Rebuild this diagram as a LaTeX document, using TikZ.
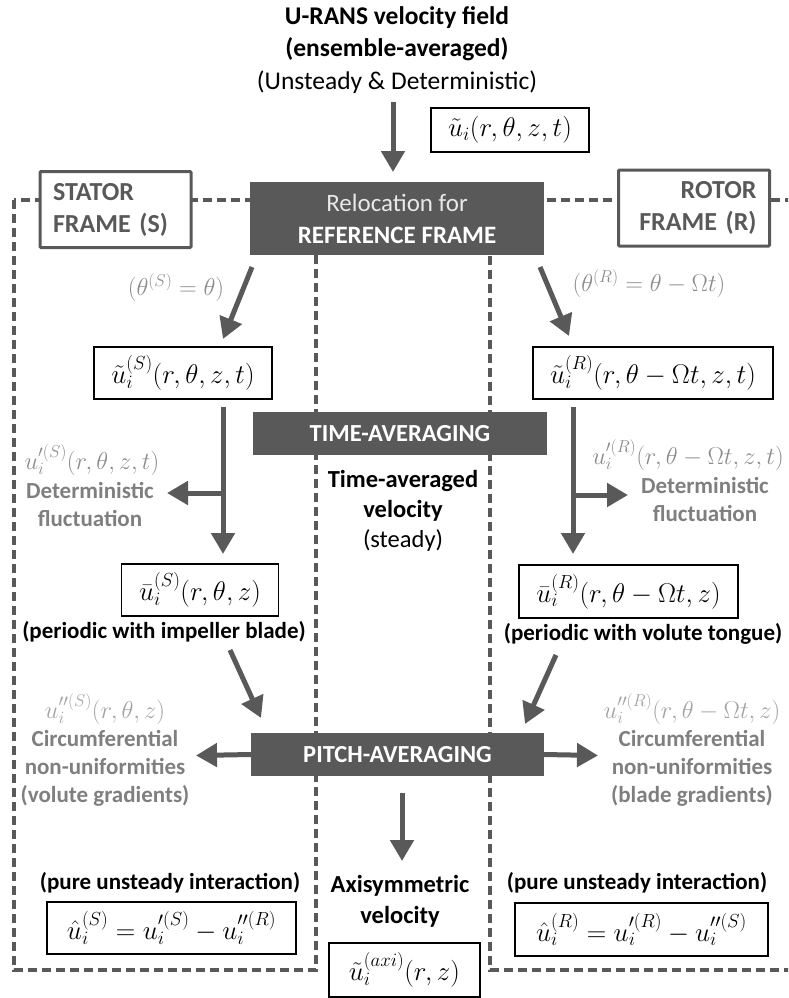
\documentclass[tikz,border=0pt]{standalone}
\usepackage{fix-cm}
\usepackage{fontspec}
\setmainfont{Carlito}
\usetikzlibrary{arrows.meta}
\definecolor{dk}{HTML}{595959}
\definecolor{lg}{HTML}{8C8C8C}
\definecolor{llg}{HTML}{A3A3A3}
\definecolor{tg}{HTML}{7F7F7F}
\definecolor{wt}{HTML}{E8E8E8}
\begin{document}
\begin{tikzpicture}[x=1pt,y=-1pt,
  dashline/.style={draw=dk, line width=3.2pt, dash pattern=on 9pt off 5pt},
  dbox/.style={fill=dk, text=white, inner sep=0pt, align=center, font=\bfseries\fontsize{25}{32}\selectfont},
  fbox/.style={draw=black, line width=1.2pt, fill=white, inner sep=0pt, font=\fontsize{27}{30}\selectfont},
  frbox/.style={draw=dk, line width=3pt, fill=white, text=dk, inner ysep=0pt, inner xsep=13pt, font=\bfseries\fontsize{26}{32}\selectfont, rounded corners=1pt, text width=125pt, minimum height=76pt},
  arr/.style={draw=dk, line width=5pt, -{Triangle[length=21pt,width=23pt]}},
  lab/.style={text=lg, inner sep=0pt, font=\fontsize{24.5}{28}\selectfont},
  lab2/.style={text=llg, inner sep=0pt, font=\fontsize{24.5}{28}\selectfont},
  gtxt/.style={text=tg, inner sep=0pt, align=center, font=\bfseries\fontsize{23}{28}\selectfont},
  txt/.style={inner sep=0pt, align=center, font=\bfseries\fontsize{23}{28}\selectfont},
]
\useasboundingbox (0,0) rectangle (788,998);
\clip (0,0) rectangle (788,998);

% dashed frames
\draw[dashline] (14,200) rectangle (316,970);
\draw[dashline] (490,200) rectangle (810,970);

% title
\node (title) [inner sep=0pt, align=center, font=\fontsize{25.5}{32.5}\selectfont] at (397,50)
  {\bfseries U-RANS velocity field\\ \bfseries (ensemble-averaged)\\ (Unsteady \& Deterministic)};

\node (u0) [fbox, minimum width=158pt, minimum height=44pt] at (510,130) {$\tilde u_i(r,\theta,z,t)$};

% frame boxes
\node (stator) [frbox, align=left] at (115.5,209.5) {STATOR\\FRAME (S)};
\node (rotor) [frbox, align=right] at (694,208) {ROTOR\\FRAME (R)};

% dark boxes
\node (reloc) [dbox, minimum width=294pt, minimum height=73pt] at (397,218.5)
  {{\mdseries\color{wt}Relocation for}\\REFERENCE FRAME};
\node (tavg) [dbox, minimum width=294pt, minimum height=43pt, font=\bfseries\fontsize{24.5}{30}\selectfont] at (400,433.5) {TIME-AVERAGING};
\node (pavg) [dbox, minimum width=293pt, minimum height=43pt, font=\bfseries\fontsize{24.5}{30}\selectfont] at (397.5,754.5) {PITCH-AVERAGING};

% formula boxes
\node (uS) [fbox, minimum width=178pt, minimum height=52pt] at (183,373) {$\tilde u_i^{(S)}(r,\theta,z,t)$};
\node (uR) [fbox, minimum width=240pt, minimum height=52pt] at (653,373) {$\tilde u_i^{(R)}(r,\theta-\Omega t,z,t)$};
\node (ubS) [fbox, minimum width=157pt, minimum height=52pt] at (200,590) {$\bar u_i^{(S)}(r,\theta,z)$};
\node (ubR) [fbox, minimum width=219pt, minimum height=53pt] at (628.5,591.5) {$\bar u_i^{(R)}(r,\theta-\Omega t,z)$};
\node (uhS) [fbox, minimum width=249pt, minimum height=52pt] at (171.5,928) {$\hat u_i^{(S)}=u_i^{\prime(S)}-u_i^{\prime\prime(R)}$};
\node (uhR) [fbox, minimum width=253pt, minimum height=53pt] at (641.5,929.5) {$\hat u_i^{(R)}=u_i^{\prime(R)}-u_i^{\prime\prime(S)}$};
\node (uax) [fbox, minimum width=151pt, minimum height=54pt] at (404.5,970) {$\tilde u_i^{(axi)}(r,z)$};

% labels
\node (thS) [lab] at (176,288) {$\bigl(\theta^{(S)}=\theta\bigr)$};
\node (thR) [lab] at (649,284) {$\bigl(\theta^{(R)}=\theta-\Omega t\bigr)$};
\node (upS) [lab] at (92,460) {$u_i^{\prime(S)}(r,\theta,z,t)$};
\node (dfS) [gtxt] at (90,504) {Deterministic\\fluctuation};
\node (upR) [lab] at (688,455) {$u_i^{\prime(R)}(r,\theta-\Omega t,z,t)$};
\node (dfR) [gtxt] at (705,499) {Deterministic\\fluctuation};
\node (perS) [txt] at (164,632) {(periodic with impeller blade)};
\node (perR) [txt] at (643,634) {(periodic with volute tongue)};
\node (uppS) [lab2] at (105,709) {$u_i^{\prime\prime(S)}(r,\theta,z)$};
\node (cfS) [gtxt] at (105,768) {Circumferential\\non-uniformities\\(volute gradients)};
\node (uppR) [lab2] at (692,709) {$u_i^{\prime\prime(R)}(r,\theta-\Omega t,z)$};
\node (cfR) [gtxt] at (692,768) {Circumferential\\non-uniformities\\(blade gradients)};
\node (tav) [txt, font=\fontsize{24.5}{30}\selectfont] at (403,511) {\bfseries Time-averaged\\\bfseries velocity\\(steady)};
\node (axv) [txt, font=\bfseries\fontsize{24.5}{31}\selectfont] at (400,901) {Axisymmetric\\velocity};
\node (pusS) [txt] at (170,883) {(pure unsteady interaction)};
\node (pusR) [txt] at (637,883) {(pure unsteady interaction)};

% arrow end points
\coordinate (a0s) at (393,102);  \coordinate (a0e) at (393,172);
\coordinate (aSs) at (252,267);  \coordinate (aSe) at (223,339);
\coordinate (aRs) at (540,267);  \coordinate (aRe) at (569,336);
\coordinate (vSs) at (223,407);  \coordinate (vSe) at (223,554);
\coordinate (sSs) at (223,493);  \coordinate (sSe) at (167,493);
\coordinate (vRs) at (573,407);  \coordinate (vRe) at (573,554);
\coordinate (sRs) at (573,495);  \coordinate (sRe) at (628,495);
\coordinate (dSs) at (230,650);  \coordinate (dSe) at (261,718);
\coordinate (dRs) at (556,655);  \coordinate (dRe) at (525,724);
\coordinate (pLe) at (196,755.5);
\coordinate (pRe) at (598,755.5);
\coordinate (mDs) at (402,793);  \coordinate (mDe) at (402,861);

\draw[arr] (a0s) -- (a0e);
\draw[arr] (aSs) -- (aSe);
\draw[arr] (aRs) -- (aRe);
\draw[arr] (vSs) -- (vSe);
\draw[arr] (sSs) -- (sSe);
\draw[arr] (vRs) -- (vRe);
\draw[arr] (sRs) -- (sRe);
\draw[arr] (dSs) -- (dSe);
\draw[arr] (dRs) -- (dRe);
\draw[arr] (pavg.west) -- (pLe);
\draw[arr] (pavg.east) -- (pRe);
\draw[arr] (mDs) -- (mDe);
\end{tikzpicture}
\end{document}
